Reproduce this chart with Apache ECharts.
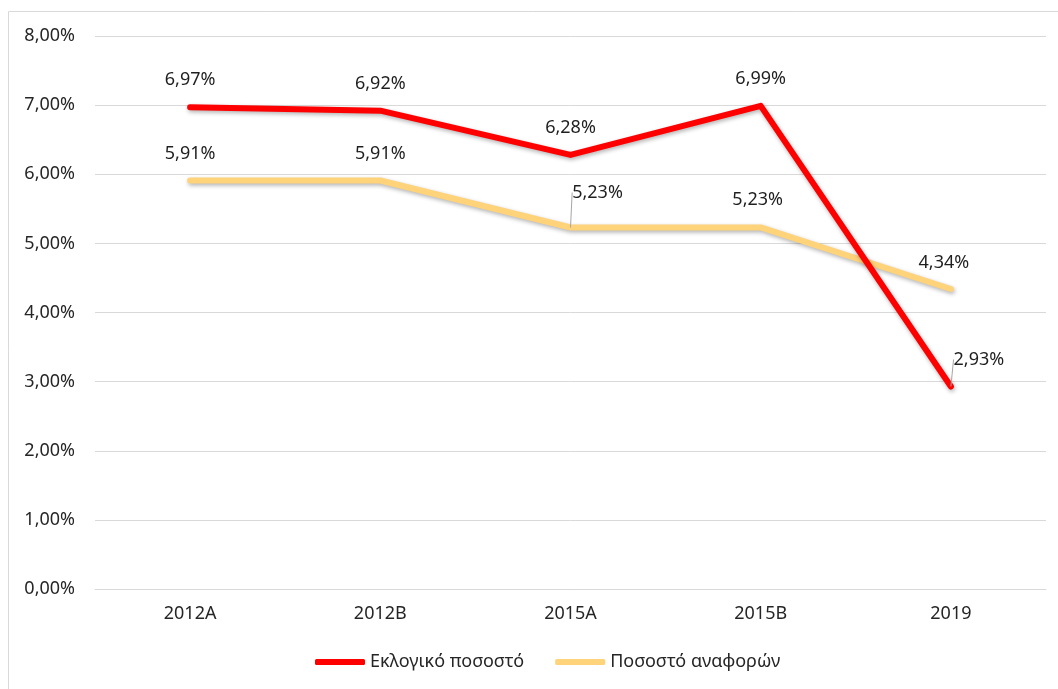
<!DOCTYPE html>
<html>
<head>
<meta charset="UTF-8">
<title>Ποσοστά</title>
<script src="https://cdn.jsdelivr.net/npm/echarts@6/dist/echarts.min.js"></script>
<style>
  html, body { margin: 0; padding: 0; background: #fff; }
  #main { width: 1058px; height: 689px; }
</style>
</head>
<body>
<div id="main"></div>
<script>
// κατηγορίες και τιμές (%)
var categories = ['2012A', '2012B', '2015A', '2015B', '2019'];
var eklogiko = [6.97, 6.92, 6.28, 6.99, 2.93];
var anafores = [5.91, 5.91, 5.23, 5.23, 4.34];
var yTicks = [0, 1, 2, 3, 4, 5, 6, 7, 8];

// γραμμές οδηγοί μόνο σε μετακινημένες ετικέτες
var redLeader = [false, false, false, false, true];
var yellowLeader = [false, false, true, false, false];

// μετατοπίσεις ετικετών (dx, dy) ανά σημείο
var redShift = [[0, 0], [0, 0], [0, 0], [0, 0], [28, 0]];
var yellowShift = [[0, 0], [0, 0], [27, -8], [-3, -1], [-7, 1]];

function pct(v) {
    return v.toFixed(2).replace('.', ',') + '%';
}

function buildData(values, leaders) {
    return values.map(function (v, i) {
        return { value: v, labelLine: { show: leaders[i] } };
    });
}

function makeLayout(shift, leaders) {
    return function (p) {
        var s = shift[p.dataIndex];
        var out = { dx: s[0], dy: s[1] };
        if (leaders[p.dataIndex]) {
            var px = p.rect.x + p.rect.width / 2;
            var py = p.rect.y + p.rect.height / 2;
            var lr = p.labelRect;
            var ex = lr.x + lr.width / 2 + s[0] + 2;
            var ey = lr.y + lr.height + s[1] + 6;
            out.labelLinePoints = [[px, py], [(px + ex) / 2, (py + ey) / 2], [ex, ey]];
        }
        return out;
    };
}

var fontFam = 'Noto Sans';

var option = {
    animation: false,
    backgroundColor: '#fff',
    graphic: [{
        type: 'rect',
        shape: { x: 8.5, y: 11.5, width: 1100, height: 720 },
        style: { fill: 'none', stroke: '#d9d9d9', lineWidth: 1 },
        silent: true
    }],
    grid: { left: 95, right: 12, top: 36, bottom: 100 },
    legend: {
        bottom: 13,
        left: 310,
        icon: 'roundRect',
        itemWidth: 50,
        itemHeight: 6,
        itemGap: 31,
        textStyle: { fontFamily: fontFam, fontSize: 18, color: '#262626' },
        data: ['Εκλογικό ποσοστό', 'Ποσοστό αναφορών']
    },
    xAxis: {
        type: 'category',
        data: categories,
        axisLine: { lineStyle: { color: '#d9d9d9', width: 1 } },
        axisTick: { show: false },
        axisLabel: { fontFamily: fontFam, fontSize: 18, color: '#262626', margin: 16 }
    },
    yAxis: {
        type: 'value',
        min: yTicks[0],
        max: yTicks[yTicks.length - 1],
        interval: 1,
        axisLine: { show: false },
        axisTick: { show: false },
        splitLine: { lineStyle: { color: '#d9d9d9', width: 1 } },
        axisLabel: {
            fontFamily: fontFam, fontSize: 18, color: '#262626', margin: 20,
            formatter: function (v) { return pct(v); }
        }
    },
    series: [
        {
            name: 'Εκλογικό ποσοστό',
            type: 'line',
            data: buildData(eklogiko, redLeader),
            symbol: 'circle',
            symbolSize: 0,
            showSymbol: true,
            color: '#ff0000',
            lineStyle: {
                width: 6, color: '#ff0000', cap: 'round', join: 'round',
                shadowColor: 'rgba(0,0,0,0.3)', shadowBlur: 4, shadowOffsetX: 1, shadowOffsetY: 2
            },
            label: {
                show: true, position: 'top', distance: 18,
                fontFamily: fontFam, fontSize: 18, color: '#1f1f1f',
                formatter: function (p) { return pct(p.value); }
            },
            labelLine: { show: false, lineStyle: { color: '#a6a6a6', width: 1 } },
            labelLayout: makeLayout(redShift, redLeader),
            z: 3
        },
        {
            name: 'Ποσοστό αναφορών',
            type: 'line',
            data: buildData(anafores, yellowLeader),
            symbol: 'circle',
            symbolSize: 0,
            showSymbol: true,
            color: '#ffd37a',
            lineStyle: {
                width: 6, color: '#ffd37a', cap: 'round', join: 'round',
                shadowColor: 'rgba(0,0,0,0.3)', shadowBlur: 4, shadowOffsetX: 1, shadowOffsetY: 2
            },
            label: {
                show: true, position: 'top', distance: 18,
                fontFamily: fontFam, fontSize: 18, color: '#1f1f1f',
                formatter: function (p) { return pct(p.value); }
            },
            labelLine: { show: false, lineStyle: { color: '#a6a6a6', width: 1 } },
            labelLayout: makeLayout(yellowShift, yellowLeader),
            z: 2
        }
    ]
};

var myChart = echarts.init(document.getElementById('main'));
myChart.setOption(option);
</script>
</body>
</html>
